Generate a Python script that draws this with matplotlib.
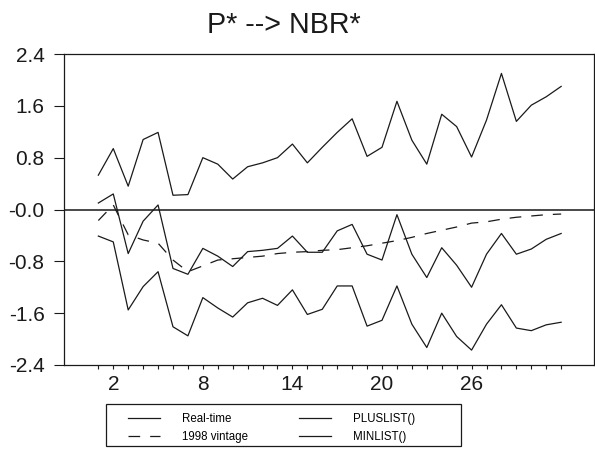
import matplotlib
matplotlib.use("Agg")
import matplotlib.pyplot as plt
import numpy as np
from matplotlib.patches import Rectangle

plt.rcParams['font.family'] = ['Liberation Sans', 'DejaVu Sans']
plt.rcParams['lines.scale_dashes'] = False

# periods 1..32
periods = np.arange(1, 33)

plus_list = [0.53, 0.94, 0.36, 1.08, 1.19, 0.22, 0.23, 0.80, 0.70, 0.47,
             0.66, 0.72, 0.80, 1.01, 0.72, 0.96, 1.19, 1.40, 0.82, 0.96,
             1.67, 1.07, 0.70, 1.47, 1.28, 0.81, 1.38, 2.10, 1.36, 1.61,
             1.74, 1.90]

real_time = [0.10, 0.24, -0.68, -0.18, 0.07, -0.91, -1.00, -0.60, -0.72, -0.88,
             -0.65, -0.63, -0.60, -0.41, -0.66, -0.66, -0.33, -0.23, -0.69, -0.78,
             -0.08, -0.69, -1.05, -0.59, -0.86, -1.20, -0.69, -0.37, -0.69, -0.61,
             -0.46, -0.37]

min_list = [-0.41, -0.50, -1.55, -1.19, -0.96, -1.81, -1.95, -1.36, -1.52, -1.66,
            -1.44, -1.37, -1.48, -1.24, -1.62, -1.54, -1.18, -1.18, -1.80, -1.71,
            -1.18, -1.77, -2.13, -1.60, -1.96, -2.17, -1.77, -1.47, -1.83, -1.87,
            -1.78, -1.74]

vintage_1998 = [-0.17, 0.07, -0.39, -0.47, -0.52, -0.78, -0.96, -0.87, -0.78, -0.76,
                -0.74, -0.72, -0.68, -0.66, -0.65, -0.63, -0.62, -0.59, -0.56, -0.52,
                -0.48, -0.43, -0.37, -0.32, -0.27, -0.21, -0.19, -0.15, -0.12, -0.10,
                -0.08, -0.07]

y_ticks = [-2.4, -1.6, -0.8, 0.0, 0.8, 1.6, 2.4]
y_labels = ['-2.4', '-1.6', '-0.8', '-0.0', '0.8', '1.6', '2.4']
x_labelled = [2, 8, 14, 20, 26]

ink = '#1a1a1a'

fig = plt.figure(figsize=(5.95, 4.5), dpi=100)
ax = fig.add_axes([64/595, 1 - 365/450, (594 - 64)/595, (365 - 54)/450])

# zero line
ax.axhline(0, color='#3a3a3a', lw=1.3, zorder=1)

l1, = ax.plot(periods, real_time, color=ink, lw=0.9, label='Real-time')
l2, = ax.plot(periods, vintage_1998, color=ink, lw=0.9, dashes=(8.4, 7.2),
              label='1998 vintage')
l3, = ax.plot(periods, plus_list, color=ink, lw=0.9, label='PLUSLIST()')
l4, = ax.plot(periods, min_list, color=ink, lw=0.9, label='MINLIST()')

ax.set_xlim(-1.3, 34.2)
ax.set_ylim(-2.4, 2.4)

ax.set_yticks(y_ticks)
ax.set_yticklabels(y_labels)
ax.set_xticks(periods)
ax.set_xticklabels([str(p) if p in x_labelled else '' for p in periods])

ax.tick_params(axis='y', length=7, width=0.8, pad=7, labelsize=15, colors=ink)
ax.tick_params(axis='x', length=3, width=0.8, pad=4, labelsize=15, colors=ink)
for s in ax.spines.values():
    s.set_color(ink)
    s.set_linewidth(0.9)

fig.text(284/595, 1 - 33/450, 'P* --> NBR*', ha='center', va='baseline',
         fontsize=20.6, color=ink)

# legend box
fig.patches.append(Rectangle((105.7/595, 1 - 446/450), (461 - 105.7)/595, (446 - 404)/450,
                             transform=fig.transFigure, fill=False,
                             edgecolor=ink, lw=0.9))
fig.legend(handles=[l1, l2, l3, l4], ncol=2, frameon=False,
           loc='upper left', bbox_to_anchor=(127.7/595, 1 - 413/450),
           bbox_transform=fig.transFigure, borderpad=0, borderaxespad=0,
           fontsize=8.3, handlelength=2.8, handletextpad=1.9,
           columnspacing=4.4, labelspacing=0.55)

fig.savefig('out.png', dpi=100)
